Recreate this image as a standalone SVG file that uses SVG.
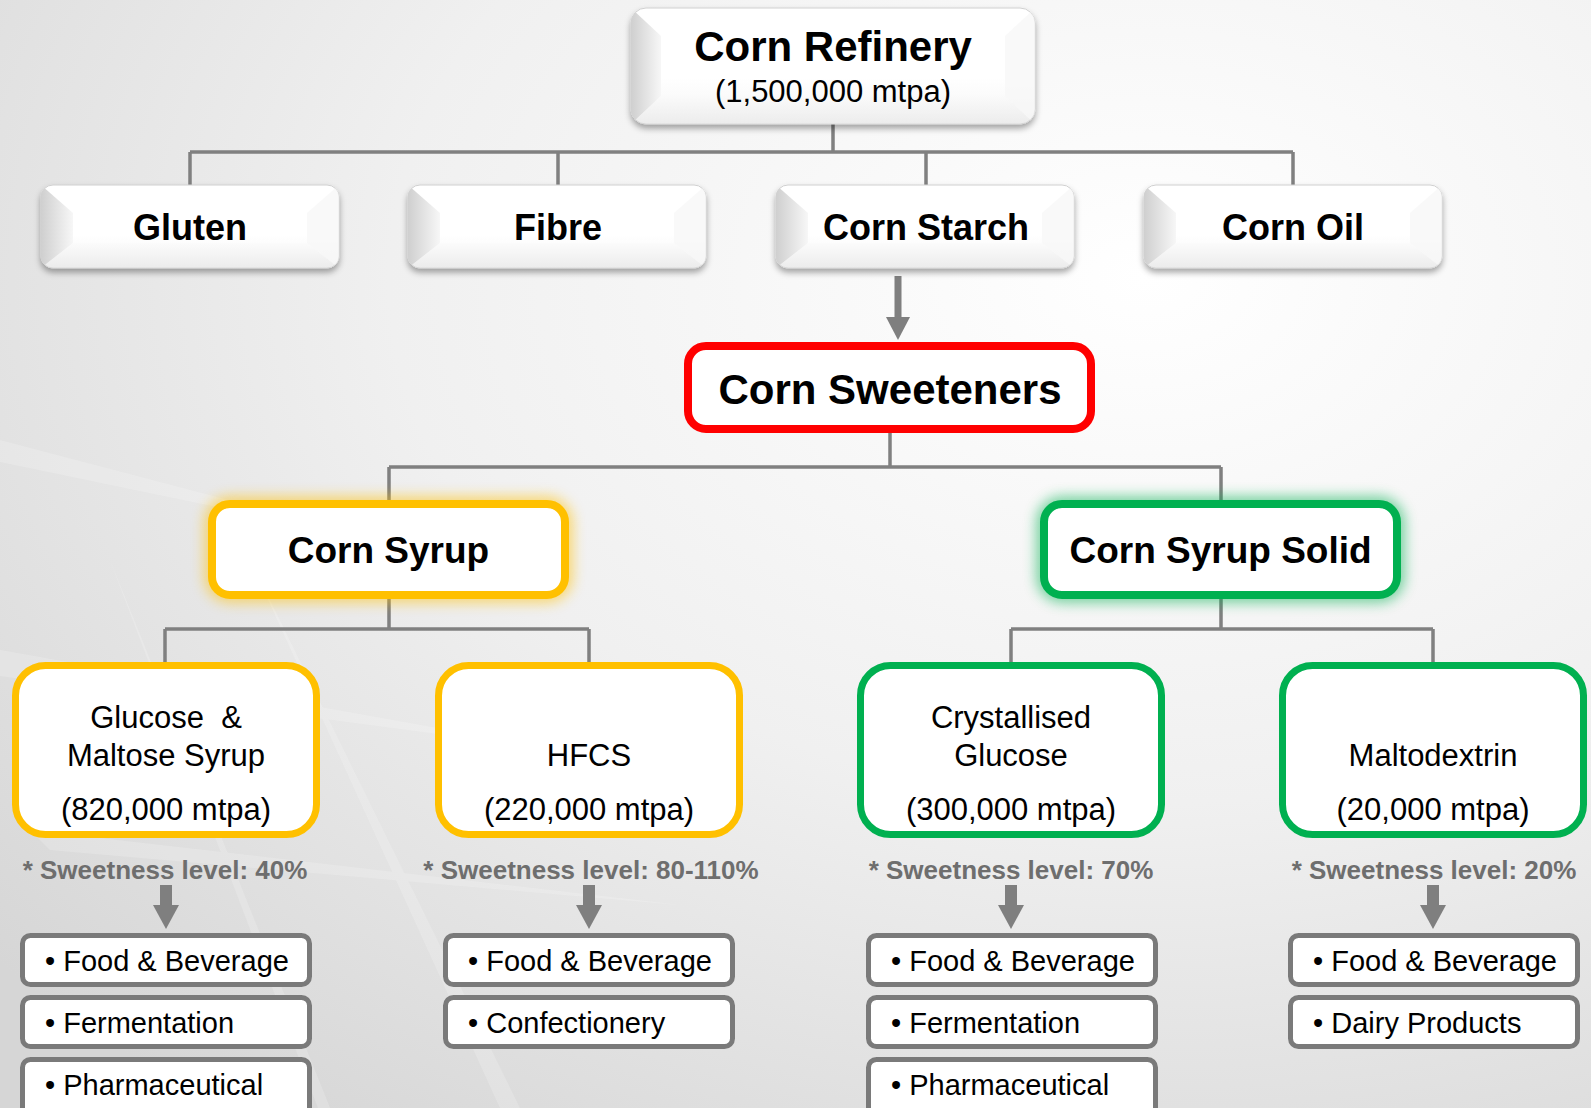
<svg xmlns="http://www.w3.org/2000/svg" width="1591" height="1108" viewBox="0 0 1591 1108">
<defs>
<style>
.bold{font-family:"Liberation Sans",Arial,sans-serif;font-weight:bold;fill:#000;text-anchor:middle}
.reg{font-family:"Liberation Sans",Arial,sans-serif;fill:#000;text-anchor:middle}
.item{font-family:"Liberation Sans",Arial,sans-serif;fill:#000;font-size:29px}
.sweet{font-family:"Liberation Sans",Arial,sans-serif;font-weight:bold;fill:#6e6e6e;font-size:26px;text-anchor:middle}
.conn{stroke:#808080;stroke-width:3.5;fill:none}
.arrowfill{fill:#7f7f7f}
.bevbox{fill:url(#bevFill);stroke:#d0d0d0;stroke-width:1}
.lvl4o{fill:#fff;stroke:#FFC000;stroke-width:7}
.lvl4g{fill:#fff;stroke:#00B050;stroke-width:7}
.list{fill:#fff;stroke:#7a7a7a;stroke-width:5}
</style>
<radialGradient id="bg" cx="0.72" cy="0.25" r="0.95">
<stop offset="0" stop-color="#ffffff"/>
<stop offset="0.5" stop-color="#f0f0f0"/>
<stop offset="1" stop-color="#d6d6d6"/>
</radialGradient>
<linearGradient id="bevFill" x1="0" y1="0" x2="0" y2="1">
<stop offset="0" stop-color="#ffffff"/>
<stop offset="0.6" stop-color="#ffffff"/>
<stop offset="1" stop-color="#f4f4f4"/>
</linearGradient>
<linearGradient id="bevLeft" x1="0" y1="0" x2="1" y2="0">
<stop offset="0" stop-color="#cfcfcf"/>
<stop offset="1" stop-color="#f7f7f7"/>
</linearGradient>
<linearGradient id="bevBottom" x1="0" y1="0" x2="0" y2="1">
<stop offset="0" stop-color="#fafafa"/>
<stop offset="1" stop-color="#e4e4e4"/>
</linearGradient>
<filter id="shadow" x="-10%" y="-20%" width="120%" height="150%">
<feDropShadow dx="0" dy="4" stdDeviation="3" flood-color="#000" flood-opacity="0.35"/>
</filter>
<filter id="glow" x="-20%" y="-40%" width="140%" height="180%">
<feGaussianBlur stdDeviation="7"/>
</filter>
<clipPath id="clipSmall"><rect x="0" y="0" width="298" height="83" rx="12"/></clipPath>
<clipPath id="clipRef"><rect x="0" y="0" width="404" height="116" rx="15"/></clipPath>
</defs>

<rect x="0" y="0" width="1591" height="1108" fill="url(#bg)"/>
<g id="background-streaks" fill="#ffffff" opacity="0.18">
<polygon points="0,440 400,545 0,462"/>
<polygon points="0,650 560,750 0,676"/>
<polygon points="30,830 680,905 50,850"/>
<polygon points="250,560 520,1108 500,1108"/>
<polygon points="110,560 330,1108 318,1108"/>
</g>

<g id="connectors">
<path class="conn" d="M833,124 V152 M190,152 H1293 M190,152 V185 M558,152 V185 M926,152 V185 M1293,152 V185"/>
<path class="conn" d="M890,433 V467 M389,467 H1221 M389,467 V500 M1221,467 V500"/>
<path class="conn" d="M389,599 V629 M165,629 H589 M165,629 V662 M589,629 V662"/>
<path class="conn" d="M1221,599 V629 M1011,629 H1433 M1011,629 V662 M1433,629 V662"/>
<g class="arrowfill">
<rect x="894.5" y="276" width="7" height="42"/>
<polygon points="886,317 910,317 898,340"/>
<rect x="160" y="885" width="12" height="21"/>
<polygon points="153,905 179,905 166,929"/>
<rect x="583" y="885" width="12" height="21"/>
<polygon points="576,905 602,905 589,929"/>
<rect x="1005" y="885" width="12" height="21"/>
<polygon points="998,905 1024,905 1011,929"/>
<rect x="1427" y="885" width="12" height="21"/>
<polygon points="1420,905 1446,905 1433,929"/>
</g>
</g>

<g id="corn-refinery" transform="translate(631,8)">
<g filter="url(#shadow)">
<rect class="bevbox" x="0" y="0" width="404" height="116" rx="15"/>
</g>
<g clip-path="url(#clipRef)">
<polygon points="0,0 30,28 30,88 0,116" fill="url(#bevLeft)"/>
<polygon points="0,116 30,88 374,88 404,116" fill="url(#bevBottom)" opacity="0.5"/>
<polygon points="404,0 374,28 374,88 404,116" fill="#f6f6f6" opacity="0.7"/>
</g>
<text class="bold" x="202" y="53" font-size="42">Corn Refinery</text>
<text class="reg" x="202" y="94" font-size="31">(1,500,000 mtpa)</text>
</g>

<g id="gluten" transform="translate(41,185)">
<g filter="url(#shadow)"><rect class="bevbox" x="0" y="0" width="298" height="83" rx="12"/></g>
<g clip-path="url(#clipSmall)">
<polygon points="0,0 32,28 32,58 0,83" fill="url(#bevLeft)"/>
<polygon points="0,83 32,58 266,58 298,83" fill="url(#bevBottom)" opacity="0.5"/>
<polygon points="298,0 266,28 266,58 298,83" fill="#f6f6f6" opacity="0.7"/>
</g>
<text class="bold" x="149" y="55" font-size="36">Gluten</text>
</g>

<g id="fibre" transform="translate(408,185)">
<g filter="url(#shadow)"><rect class="bevbox" x="0" y="0" width="298" height="83" rx="12"/></g>
<g clip-path="url(#clipSmall)">
<polygon points="0,0 32,28 32,58 0,83" fill="url(#bevLeft)"/>
<polygon points="0,83 32,58 266,58 298,83" fill="url(#bevBottom)" opacity="0.5"/>
<polygon points="298,0 266,28 266,58 298,83" fill="#f6f6f6" opacity="0.7"/>
</g>
<text class="bold" x="150" y="55" font-size="36">Fibre</text>
</g>

<g id="corn-starch" transform="translate(776,185)">
<g filter="url(#shadow)"><rect class="bevbox" x="0" y="0" width="298" height="83" rx="12"/></g>
<g clip-path="url(#clipSmall)">
<polygon points="0,0 32,28 32,58 0,83" fill="url(#bevLeft)"/>
<polygon points="0,83 32,58 266,58 298,83" fill="url(#bevBottom)" opacity="0.5"/>
<polygon points="298,0 266,28 266,58 298,83" fill="#f6f6f6" opacity="0.7"/>
</g>
<text class="bold" x="150" y="55" font-size="36">Corn Starch</text>
</g>

<g id="corn-oil" transform="translate(1144,185)">
<g filter="url(#shadow)"><rect class="bevbox" x="0" y="0" width="298" height="83" rx="12"/></g>
<g clip-path="url(#clipSmall)">
<polygon points="0,0 32,28 32,58 0,83" fill="url(#bevLeft)"/>
<polygon points="0,83 32,58 266,58 298,83" fill="url(#bevBottom)" opacity="0.5"/>
<polygon points="298,0 266,28 266,58 298,83" fill="#f6f6f6" opacity="0.7"/>
</g>
<text class="bold" x="149" y="55" font-size="36">Corn Oil</text>
</g>

<g id="corn-sweeteners">
<rect x="688" y="346" width="403" height="83" rx="18" fill="#fff" stroke="#FF0000" stroke-width="8"/>
<text class="bold" x="890" y="404" font-size="42">Corn Sweeteners</text>
</g>

<g id="corn-syrup">
<rect x="212" y="504" width="353" height="91" rx="18" fill="none" stroke="#FFC000" stroke-width="14" opacity="0.6" filter="url(#glow)"/>
<rect x="212" y="504" width="353" height="91" rx="18" fill="#fff" stroke="#FFC000" stroke-width="8"/>
<text class="bold" x="388.5" y="563" font-size="37">Corn Syrup</text>
</g>

<g id="corn-syrup-solid">
<rect x="1044" y="504" width="353" height="91" rx="18" fill="none" stroke="#00B050" stroke-width="14" opacity="0.6" filter="url(#glow)"/>
<rect x="1044" y="504" width="353" height="91" rx="18" fill="#fff" stroke="#00B050" stroke-width="8"/>
<text class="bold" x="1220.5" y="563" font-size="37">Corn Syrup Solid</text>
</g>

<g id="glucose-maltose">
<rect class="lvl4o" x="15.5" y="665.5" width="301" height="169" rx="30"/>
<text class="reg" x="166" y="728" font-size="31" xml:space="preserve">Glucose  &amp;</text>
<text class="reg" x="166" y="766" font-size="31">Maltose Syrup</text>
<text class="reg" x="166" y="820" font-size="31">(820,000 mtpa)</text>
</g>

<g id="hfcs">
<rect class="lvl4o" x="438.5" y="665.5" width="301" height="169" rx="30"/>
<text class="reg" x="589" y="766" font-size="31">HFCS</text>
<text class="reg" x="589" y="820" font-size="31">(220,000 mtpa)</text>
</g>

<g id="crystallised-glucose">
<rect class="lvl4g" x="860.5" y="665.5" width="301" height="169" rx="30"/>
<text class="reg" x="1011" y="728" font-size="31">Crystallised</text>
<text class="reg" x="1011" y="766" font-size="31">Glucose</text>
<text class="reg" x="1011" y="820" font-size="31">(300,000 mtpa)</text>
</g>

<g id="maltodextrin">
<rect class="lvl4g" x="1282.5" y="665.5" width="301" height="169" rx="30"/>
<text class="reg" x="1433" y="766" font-size="31">Maltodextrin</text>
<text class="reg" x="1433" y="820" font-size="31">(20,000 mtpa)</text>
</g>

<g id="sweetness-labels">
<text class="sweet" x="165" y="879">* Sweetness level: 40%</text>
<text class="sweet" x="591" y="879">* Sweetness level: 80-110%</text>
<text class="sweet" x="1011" y="879">* Sweetness level: 70%</text>
<text class="sweet" x="1434" y="879">* Sweetness level: 20%</text>
</g>

<g id="uses-glucose-maltose">
<rect class="list" x="22.5" y="935.5" width="287" height="49" rx="8"/>
<text class="item" x="45" y="971">• Food &amp; Beverage</text>
<rect class="list" x="22.5" y="997.5" width="287" height="49" rx="8"/>
<text class="item" x="45" y="1033">• Fermentation</text>
<rect class="list" x="22.5" y="1059.5" width="287" height="60" rx="8"/>
<text class="item" x="45" y="1095">• Pharmaceutical</text>
</g>

<g id="uses-hfcs">
<rect class="list" x="445.5" y="935.5" width="287" height="49" rx="8"/>
<text class="item" x="468" y="971">• Food &amp; Beverage</text>
<rect class="list" x="445.5" y="997.5" width="287" height="49" rx="8"/>
<text class="item" x="468" y="1033">• Confectionery</text>
</g>

<g id="uses-crystallised-glucose">
<rect class="list" x="868.5" y="935.5" width="287" height="49" rx="8"/>
<text class="item" x="891" y="971">• Food &amp; Beverage</text>
<rect class="list" x="868.5" y="997.5" width="287" height="49" rx="8"/>
<text class="item" x="891" y="1033">• Fermentation</text>
<rect class="list" x="868.5" y="1059.5" width="287" height="60" rx="8"/>
<text class="item" x="891" y="1095">• Pharmaceutical</text>
</g>

<g id="uses-maltodextrin">
<rect class="list" x="1290.5" y="935.5" width="287" height="49" rx="8"/>
<text class="item" x="1313" y="971">• Food &amp; Beverage</text>
<rect class="list" x="1290.5" y="997.5" width="287" height="49" rx="8"/>
<text class="item" x="1313" y="1033">• Dairy Products</text>
</g>
</svg>
